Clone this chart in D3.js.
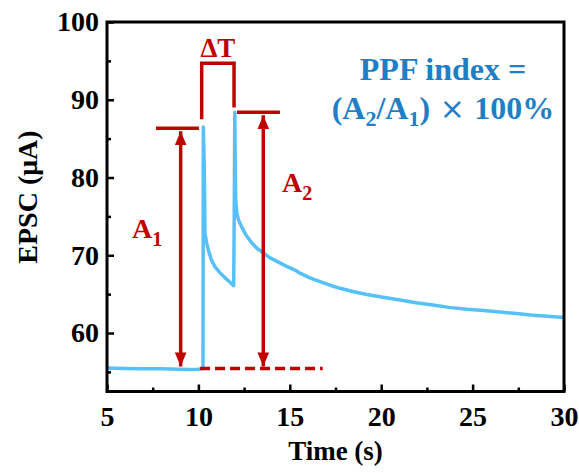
<!DOCTYPE html>
<html>
<head>
<meta charset="utf-8">
<script src="https://cdn.jsdelivr.net/npm/d3@7"></script>
<style>
  html, body { margin: 0; padding: 0; background: #fff; }
  svg { display: block; }
  text { font-family: "Liberation Serif", "Times New Roman", serif; font-weight: bold; }
</style>
</head>
<body>
<svg id="chart" width="579" height="473"></svg>
<script>
// EPSC trace: paired-pulse response (time in s, current in µA)
const timeS = [5, 6, 7, 8, 9, 9.5, 10, 10.25, 10.27, 10.30, 10.32, 10.36, 10.45, 10.54, 10.7, 10.91, 11.2, 11.46, 11.7, 11.93,
  11.96, 11.99, 12.02, 12.04, 12.10, 12.2, 12.37, 12.6, 12.92, 13.2, 13.55, 13.9, 14.35, 14.8, 15.28, 15.56, 16.1, 16.65, 17.2, 17.75,
  18.5, 19.21, 20.1, 21.03, 21.9, 22.83, 23.7, 24.68, 25.6, 26.5, 27.4, 28.3, 29.1, 30];
const currentUA = [55.5, 55.45, 55.4, 55.4, 55.35, 55.3, 55.35, 55.45, 86.5, 83.5, 81.4, 72.8, 71.6, 70.7, 69.5, 68.5, 67.7, 67.1, 66.6, 66.1,
  75.0, 88.4, 80.5, 77.1, 75.4, 74.5, 73.65, 72.6, 71.6, 70.9, 70.3, 69.7, 69.15, 68.6, 68.1, 67.7, 67.1, 66.6, 66.15, 65.75,
  65.3, 64.95, 64.6, 64.25, 63.9, 63.6, 63.3, 63.05, 62.9, 62.7, 62.5, 62.3, 62.15, 62.0];

// Axis ticks
const xTicks = [5, 10, 15, 20, 25, 30];
const xMinorTicks = [7.5, 12.5, 17.5, 22.5, 27.5];
const yTicks = [60, 70, 80, 90, 100];
const yMinorTicks = [55, 65, 75, 85, 95];

// Annotation geometry (data units)
const baseLevel = 55.45;
const a1Level = [7.68, 10.03, 86.35];     // x0, x1, y
const a2Level = [12.11, 14.46, 88.4];
const a1ArrowX = 9.03;
const a2ArrowX = 13.55;
const dashSpan = [10.09, 16.8];
const deltaT = [10.18, 11.95, 87.5, 89.0, 94.7]; // xLeft, xRight, yLeftBottom, yRightBottom, yTop

const red = "#c00000";
const traceBlue = "#55c1f7";
const textBlue = "#1f7fc6";

const svg = d3.select("#chart");
const m = { left: 107, right: 564, top: 22, bottom: 391.5 };

const x = d3.scaleLinear().domain([5, 30]).range([m.left, m.right]);
const y = d3.scaleLinear().domain([52.48, 100]).range([m.bottom, m.top]);

// Arrowheads
const defs = svg.append("defs");
defs.append("marker").attr("id", "head").attr("viewBox", "0 0 10 10")
  .attr("refX", 10).attr("refY", 5).attr("markerWidth", 14).attr("markerHeight", 13)
  .attr("markerUnits", "userSpaceOnUse").attr("orient", "auto-start-reverse")
  .attr("preserveAspectRatio", "none")
  .append("path").attr("d", "M0,0.5 L10,5 L0,9.5 Z").attr("fill", red);

// Axes with inward ticks
const fontTick = 28;
svg.append("g").attr("transform", `translate(0,${m.bottom})`)
  .call(d3.axisBottom(x).tickValues(xTicks).tickFormat(d3.format("d")).tickSize(-7).tickPadding(15));
svg.append("g").attr("transform", `translate(0,${m.bottom})`)
  .call(d3.axisBottom(x).tickValues(xMinorTicks).tickFormat("").tickSize(-4))
  .call(g => g.select(".domain").remove());
svg.append("g").attr("transform", `translate(${m.left},0)`)
  .call(d3.axisLeft(y).tickValues(yTicks).tickFormat(d3.format("d")).tickSize(-7).tickPadding(8));
svg.append("g").attr("transform", `translate(${m.left},0)`)
  .call(d3.axisLeft(y).tickValues(yMinorTicks).tickFormat("").tickSize(-4))
  .call(g => g.select(".domain").remove());

svg.selectAll(".tick line").attr("stroke", "#000").attr("stroke-width", 2.5);
svg.selectAll(".domain").remove();
svg.selectAll(".tick text").attr("font-size", fontTick).attr("fill", "#000")
  .attr("font-family", "Liberation Serif").attr("font-weight", "bold");

// Trace
const line = d3.line().x((d, i) => x(timeS[i])).y(d => y(d));
svg.append("path").datum(currentUA).attr("d", line)
  .attr("fill", "none").attr("stroke", traceBlue).attr("stroke-width", 3.5).attr("stroke-linejoin", "round");

// Red annotations
const ann = svg.append("g").attr("stroke", red).attr("stroke-width", 3.5).attr("fill", "none");
ann.append("line").attr("x1", x(dashSpan[0])).attr("x2", x(dashSpan[1]))
  .attr("y1", y(baseLevel)).attr("y2", y(baseLevel)).attr("stroke-dasharray", "10,5");
[a1Level, a2Level].forEach(l => {
  ann.append("line").attr("x1", x(l[0])).attr("x2", x(l[1])).attr("y1", y(l[2])).attr("y2", y(l[2]));
});
[[a1ArrowX, a1Level[2]], [a2ArrowX, a2Level[2]]].forEach(([ax, top]) => {
  ann.append("line").attr("x1", x(ax)).attr("x2", x(ax))
    .attr("y1", y(top) + 3).attr("y2", y(baseLevel) - 2)
    .attr("marker-start", "url(#head)").attr("marker-end", "url(#head)");
});
ann.append("path").attr("d", d3.line()([
  [x(deltaT[0]), y(deltaT[2])], [x(deltaT[0]), y(deltaT[4])],
  [x(deltaT[1]), y(deltaT[4])], [x(deltaT[1]), y(deltaT[3])]
]));

// Plot frame
svg.append("rect").attr("x", m.left).attr("y", m.top)
  .attr("width", m.right - m.left).attr("height", m.bottom - m.top)
  .attr("fill", "none").attr("stroke", "#000").attr("stroke-width", 3);

// Labels
svg.append("text").attr("x", (x(deltaT[0]) + x(deltaT[1])) / 2)
  .attr("y", 57).attr("text-anchor", "middle").attr("font-size", 27).attr("fill", red).text("ΔT");

function subLabel(px, py, base, sub, color, size) {
  const t = svg.append("text").attr("x", px).attr("y", py).attr("font-size", size).attr("fill", color);
  t.append("tspan").text(base);
  t.append("tspan").attr("font-size", size * 0.72).attr("dy", 8).text(sub);
  return t;
}
subLabel(132, 238, "A", "1", red, 28);
subLabel(282, 192, "A", "2", red, 28);

svg.append("text").attr("text-anchor", "middle").attr("fill", textBlue).attr("font-size", 32)
  .attr("x", 443).attr("y", 80).text("PPF index =");
const l2 = svg.append("text").attr("text-anchor", "middle").attr("fill", textBlue).attr("font-size", 32)
  .attr("x", 443).attr("y", 119);
l2.append("tspan").text("(A");
l2.append("tspan").attr("font-size", 22).attr("dy", 7).text("2");
l2.append("tspan").attr("dy", -7).text("/A");
l2.append("tspan").attr("font-size", 22).attr("dy", 7).text("1");
l2.append("tspan").attr("dy", -7).text(")");
l2.append("tspan").attr("font-weight", "normal").attr("font-family", "DejaVu Sans").attr("font-size", 30).text(" × ");
l2.append("tspan").text("100%");

// Axis titles
svg.append("text").attr("x", (m.left + m.right) / 2).attr("y", 460)
  .attr("text-anchor", "middle").attr("font-size", 27).attr("fill", "#000").text("Time (s)");
svg.append("text").attr("transform", `translate(37,197) rotate(-90)`)
  .attr("text-anchor", "middle").attr("font-size", 28).attr("fill", "#000").text("EPSC (μA)");
</script>
</body>
</html>
